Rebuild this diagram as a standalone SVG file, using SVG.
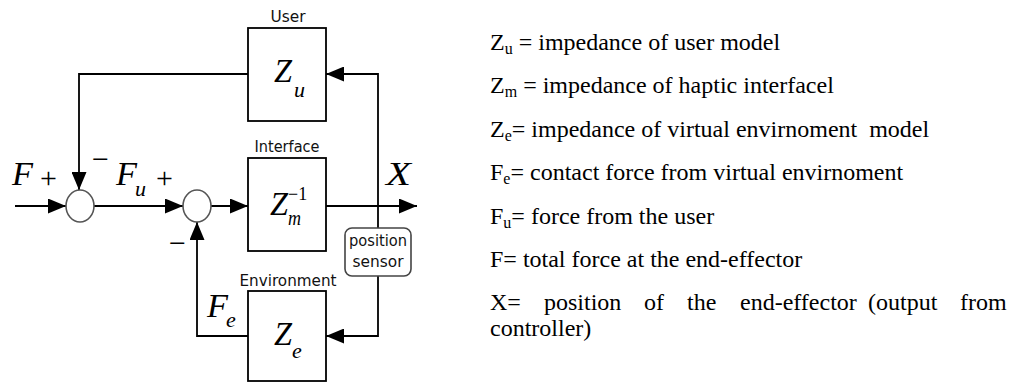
<svg xmlns="http://www.w3.org/2000/svg" width="1013" height="383" viewBox="0 0 1013 383">
<style>
.ln{fill:none;stroke:#000;stroke-width:1.8}
.box{fill:#fff;stroke:#000;stroke-width:1.8}
.sum{fill:#fff;stroke:#555;stroke-width:1.6}
.sens{fill:#fff;stroke:#444;stroke-width:1.6}
.lab{font-family:"DejaVu Sans",sans-serif;font-size:16.5px;fill:#111;text-anchor:middle}
.m{font-family:"Liberation Serif",serif;font-style:italic;fill:#000}
.big{font-size:34px}
.sub{font-size:22px}
.sup{font-size:18px;font-style:normal}
.op{font-family:"Liberation Serif",serif;font-size:30px;fill:#000}
.lg{font-family:"Liberation Serif",serif;font-size:24px;fill:#000}
.ls{font-size:16px}
</style>
<defs>
<marker id="ah" markerUnits="userSpaceOnUse" markerWidth="18" markerHeight="15" refX="18" refY="7.5" orient="auto">
<path d="M0,0 L18,7.5 L0,15 Z" fill="#000"/>
</marker>
</defs>
<rect width="1013" height="383" fill="#fff"/>

<g id="connectors">
<path class="ln" d="M15,206 H66" marker-end="url(#ah)"/>
<path class="ln" d="M94,206 H183" marker-end="url(#ah)"/>
<path class="ln" d="M211,206 H248" marker-end="url(#ah)"/>
<path class="ln" d="M326,206 H417" marker-end="url(#ah)"/>
<path class="ln" d="M378,228 V74 H326" marker-end="url(#ah)"/>
<path class="ln" d="M248,74 H79 V190" marker-end="url(#ah)"/>
<path class="ln" d="M378,276 V336 H326" marker-end="url(#ah)"/>
<path class="ln" d="M248,336 H197 V222" marker-end="url(#ah)"/>
</g>

<g id="sum1">
<ellipse class="sum" cx="80" cy="206" rx="14" ry="16"/>
</g>
<g id="sum2">
<ellipse class="sum" cx="197" cy="206" rx="14" ry="16"/>
</g>

<g id="user">
<text class="lab" x="288" y="22" textLength="35" lengthAdjust="spacingAndGlyphs">User</text>
<rect class="box" x="248" y="28" width="78" height="93"/>
<text class="m big" x="274" y="82" textLength="18" lengthAdjust="spacingAndGlyphs">Z</text>
<text class="m sub" x="294" y="97">u</text>
</g>

<g id="interface">
<text class="lab" x="287" y="152" textLength="65" lengthAdjust="spacingAndGlyphs">Interface</text>
<rect class="box" x="248" y="158" width="78" height="93"/>
<text class="m big" x="270" y="215" textLength="18" lengthAdjust="spacingAndGlyphs">Z</text>
<text class="m sup" x="288" y="200">−1</text>
<text class="m sub" x="288" y="225" textLength="13" lengthAdjust="spacingAndGlyphs">m</text>
</g>

<g id="environment">
<text class="lab" x="288" y="286" textLength="97" lengthAdjust="spacingAndGlyphs">Environment</text>
<rect class="box" x="248" y="291" width="78" height="90"/>
<text class="m big" x="274" y="345" textLength="18" lengthAdjust="spacingAndGlyphs">Z</text>
<text class="m sub" x="292" y="358">e</text>
</g>

<g id="position-sensor">
<rect class="sens" x="345" y="228" width="66" height="48" rx="7"/>
<text class="lab" x="378" y="246" textLength="58" lengthAdjust="spacingAndGlyphs">position</text>
<text class="lab" x="378" y="267" textLength="51" lengthAdjust="spacingAndGlyphs">sensor</text>
</g>

<g id="signal-labels">
<text class="m big" x="12" y="185" textLength="21" lengthAdjust="spacingAndGlyphs">F</text>
<text class="op" x="40" y="187.5">+</text>
<text class="op" x="92" y="168.5">−</text>
<text class="m big" x="116" y="185" textLength="21" lengthAdjust="spacingAndGlyphs">F</text>
<text class="m sub" x="135" y="196">u</text>
<text class="op" x="156" y="187.5">+</text>
<text class="op" x="169" y="252.5">−</text>
<text class="m big" x="207" y="317" textLength="21" lengthAdjust="spacingAndGlyphs">F</text>
<text class="m sub" x="226" y="327">e</text>
<text class="m big" x="386" y="185" textLength="25" lengthAdjust="spacingAndGlyphs">X</text>
</g>

<g id="legend">
<text class="lg" x="490" y="49.5">Z<tspan class="ls" dy="4">u</tspan><tspan dy="-4"> = impedance of user model</tspan></text>
<text class="lg" x="490" y="93">Z<tspan class="ls" dy="4">m</tspan><tspan dy="-4"> = impedance of haptic interfacel</tspan></text>
<text class="lg" x="490" y="137">Z<tspan class="ls" dy="4">e</tspan><tspan dy="-4">= impedance of virtual envirnoment&#160; model</tspan></text>
<text class="lg" x="490" y="180">F<tspan class="ls" dy="4">e</tspan><tspan dy="-4">= contact force from virtual envirnoment</tspan></text>
<text class="lg" x="490" y="224">F<tspan class="ls" dy="4">u</tspan><tspan dy="-4">= force from the user</tspan></text>
<text class="lg" x="490" y="267">F= total force at the end-effector</text>
<text class="lg" y="310"><tspan x="490">X=</tspan><tspan x="544">position</tspan><tspan x="644">of</tspan><tspan x="687">the</tspan><tspan x="740">end-effector</tspan><tspan x="868">(output</tspan><tspan x="960">from</tspan></text>
<text class="lg" x="490" y="336">controller)</text>
</g>
</svg>
